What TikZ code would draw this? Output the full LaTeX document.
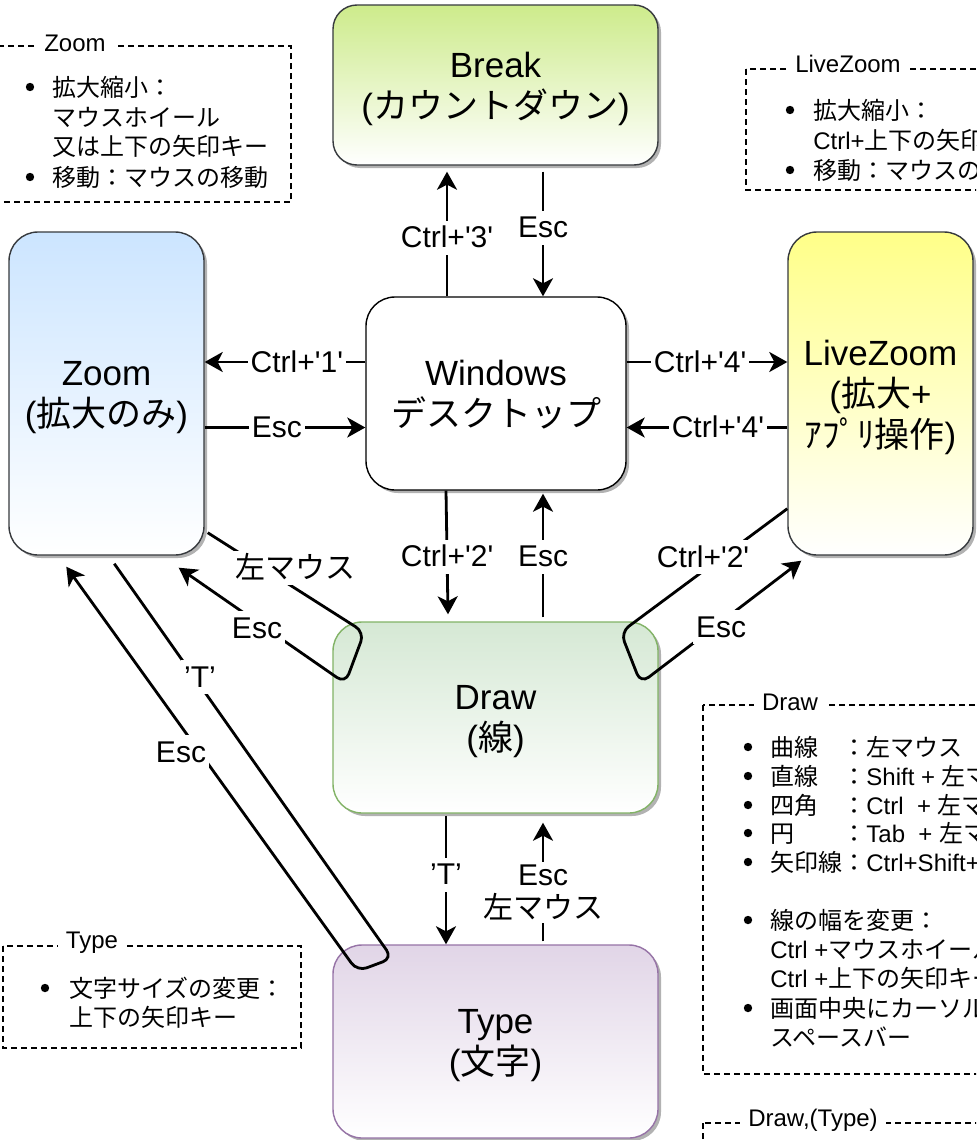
\documentclass[tikz,border=0pt]{standalone}
\usepackage{fontspec}
\setmainfont{Liberation Sans}
\newfontfamily\jp{Noto Sans CJK JP}
\usetikzlibrary{arrows.meta,shadows,calc}
\newdimen\upx \upx=0.5pt
\newcommand\J[1]{{\jp #1}}
\newcommand\sq{\textquotesingle}
\definecolor{brkc}{HTML}{CDEB8B}
\definecolor{zmc}{HTML}{CCE5FF}
\definecolor{lzc}{HTML}{FFFF88}
\definecolor{drc}{HTML}{D5E8D4}
\definecolor{drs}{HTML}{82B366}
\definecolor{tyc}{HTML}{E1D5E7}
\definecolor{tys}{HTML}{9673A6}
\definecolor{strk}{HTML}{36393D}
\begin{document}
\begin{tikzpicture}[x=0.5pt,y=-0.5pt,
 box/.style={draw=strk, line width=0.7pt, rounded corners=14.5pt, align=center, inner sep=0pt,
   text depth=0pt, font=\fontsize{17.5}{20.5}\selectfont,
   drop shadow={shadow xshift=1.5pt,shadow yshift=-1.5pt,opacity=.3,fill=black}},
 conn/.style={line width=1.4pt, -{Stealth[length=9pt,width=10pt,inset=2.5pt]}},
 loopc/.style={conn, rounded corners=5pt},
 lblbase/.style={fill=white, inner sep=1.5pt, font=\fontsize{15}{16.5}\selectfont, align=center},
 lbl/.style={lblbase, text height=12pt, text depth=2pt},
 note/.style={draw, line width=0.6pt, dash pattern=on 3pt off 2pt},
 ntitle/.style={fill=white, inner xsep=4pt, inner ysep=1pt, font=\fontsize{12}{14}\selectfont},
 ntxt/.style={anchor=west, inner sep=0pt, text height=10pt, text depth=1pt, font=\fontsize{12}{14}\selectfont},
 bulc/.style={fill=black}
]
\useasboundingbox (0,0) rectangle (976,1140);
\clip (0,0) rectangle (976,1140);
\fill[white] (0,0) rectangle (976,1140);

% ---------- main state boxes ----------
\node[box, rounded corners=12pt, top color=brkc, bottom color=white, minimum width=325\upx, minimum height=160\upx] (brk) at (495.5,85) {Break\\(\J{カウントダウン})};
\node[box, draw=black, fill=white, minimum width=260\upx, minimum height=193\upx] (win) at (496,393.5) {Windows\\\J{デスクトップ}};
\node[box, top color=zmc, bottom color=white, minimum width=195\upx, minimum height=323\upx] (zoom) at (106.5,393.5) {Zoom\\(\J{拡大のみ})};
\node[box, top color=lzc, bottom color=white, minimum width=185\upx, minimum height=323\upx] (lz) at (880.5,393.5) {LiveZoom\\(\J{拡大}+\\\J{ｱﾌﾟﾘ操作})};
\node[box, draw=drs, top color=drc, bottom color=white, minimum width=325\upx, minimum height=191\upx] (drw) at (495.5,717.5) {Draw\\(\J{線})};
\node[box, draw=tys, top color=tyc, bottom color=white, minimum width=325\upx, minimum height=193\upx] (typ) at (495.5,1041.5) {Type\\(\J{文字})};

% ---------- straight connectors ----------
\draw[conn] ($(win.north)+(-49,0)$) -- node[lbl,pos=.47]{Ctrl+\sq3\sq} ($(brk.south)+(-48.5,6)$);
\draw[conn] ($(brk.south)+(47.5,6)$) -- node[lbl,pos=.45]{Esc} ($(win.north)+(47,0)$);
\draw[conn] ($(win.west)+(0,-31.5)$) -- node[lbl,pos=.426]{Ctrl+\sq1\sq} ($(zoom.east)+(0,-31.5)$);
\draw[conn] ($(zoom.east)+(0,34)$) -- node[lbl,pos=.45]{Esc} ($(win.west)+(0,34)$);
\draw[conn] ($(win.east)+(0,-31.5)$) -- node[lbl,pos=.457]{Ctrl+\sq4\sq} ($(lz.west)+(0,-31.5)$);
\draw[conn] ($(lz.west)+(0,34)$) -- node[lbl,pos=.432]{Ctrl+\sq4\sq} ($(win.east)+(0,34)$);
\draw[conn] ($(win.south)+(-50,0)$) -- node[lbl,pos=.536]{Ctrl+\sq2\sq} ($(drw.north)+(-47.5,-7)$);
\draw[conn] ($(drw.north)+(47.5,-4)$) -- node[lbl,pos=.49]{Esc} ($(win.south)+(47,3)$);
\draw[conn] ($(drw.south)+(-49.5,2)$) -- node[lbl,pos=.46]{’T’} ($(typ.north)+(-49.5,0)$);
\draw[conn] ($(typ.north)+(47.5,-3)$) -- node[lblbase,pos=.41]{Esc\\\J{左マウス}} ($(drw.south)+(47.5,9)$);

% ---------- looped connectors ----------
\coordinate (zd0) at ($(zoom.south east)+(3,-23)$);
\coordinate (zd1) at ($(drw.north west)+(32,11)$);
\coordinate (zd2) at ($(drw.north west)+(13,62)$);
\coordinate (zd3) at ($(zoom.south east)+(-26,12)$);
\draw[loopc] (zd0) -- (zd1) -- (zd2) -- (zd3);
\node[lbl] (lzm) at (295,568) {\J{左マウス}};
\node[lbl] (lze) at (257,628) {Esc};

\coordinate (ld0) at ($(lz.south west)+(0,-47)$);
\coordinate (ld1) at ($(drw.north east)+(-38,11)$);
\coordinate (ld2) at ($(drw.north east)+(-18,62)$);
\coordinate (ld3) at ($(lz.south west)+(14,5)$);
\draw[loopc] (ld0) -- (ld1) -- (ld2) -- (ld3);
\node[lbl] (llc) at (703,557) {Ctrl+\sq2\sq};
\node[lbl] (lle) at (721,627) {Esc};

\coordinate (zt0) at ($(zoom.south west)+(106,8)$);
\coordinate (zt1) at ($(typ.north west)+(60,14)$);
\coordinate (zt2) at ($(typ.north west)+(25,27)$);
\coordinate (zt3) at ($(zoom.south west)+(58,11)$);
\draw[loopc] (zt0) -- (zt1) -- (zt2) -- (zt3);
\node[lbl] (ltt) at (200,677) {’T’};
\node[lbl] (lte) at (181,752) {Esc};

% ---------- notes ----------
% Zoom
\draw[note] (-10,46) rectangle (291,202);
\node[ntitle] (nz) at (75,43) {Zoom};
\fill[bulc] (30,87) circle[radius=2.1pt];  \node[ntxt] at (52,87) {\J{拡大縮小：}};
\node[ntxt] at (52,117) {\J{マウスホイール}};
\node[ntxt] at (52,146) {\J{又は上下の矢印キー}};
\fill[bulc] (30,177) circle[radius=2.1pt]; \node[ntxt] at (52,177) {\J{移動：マウスの移動}};

% LiveZoom
\draw[note] (746,69) rectangle (1010,190);
\node[ntitle] (nl) at (848,64) {LiveZoom};
\fill[bulc] (790,110) circle[radius=2.1pt]; \node[ntxt] at (813,110) {\J{拡大縮小：}};
\node[ntxt] at (813,140) {Ctrl+\J{上下の矢印キー}};
\fill[bulc] (790,170) circle[radius=2.1pt]; \node[ntxt] at (813,170) {\J{移動：マウスの移動}};

% Draw
\draw[note] (703,705) rectangle (1010,1074);
\node[ntitle] (nd) at (790,702) {Draw};
\fill[bulc] (748,747) circle[radius=2.1pt]; \node[ntxt] at (770,747) {\J{曲線　：左マウス}};
\fill[bulc] (748,776) circle[radius=2.1pt]; \node[ntxt] at (770,776) {\J{直線　：}Shift + \J{左マウス}};
\fill[bulc] (748,805) circle[radius=2.1pt]; \node[ntxt] at (770,805) {\J{四角　：}Ctrl~ + \J{左マウス}};
\fill[bulc] (748,833) circle[radius=2.1pt]; \node[ntxt] at (770,833) {\J{円　　：}Tab~ + \J{左マウス}};
\fill[bulc] (748,862) circle[radius=2.1pt]; \node[ntxt] at (770,862) {\J{矢印線：}Ctrl+Shift+\J{左マウス}};
\fill[bulc] (748,920) circle[radius=2.1pt]; \node[ntxt] at (770,920) {\J{線の幅を変更：}};
\node[ntxt] at (770,949) {Ctrl +\J{マウスホイール}};
\node[ntxt] at (770,978) {Ctrl +\J{上下の矢印キー}};
\fill[bulc] (748,1008) circle[radius=2.1pt]; \node[ntxt] at (770,1008) {\J{画面中央にカーソル：}};
\node[ntxt] at (770,1037) {\J{スペースバー}};

% Draw,(Type)
\draw[note] (703,1123) rectangle (1010,1200);
\node[ntitle] (ndt) at (813,1120) {Draw,(Type)};

% Type
\draw[note] (3,946) rectangle (301,1048);
\node[ntitle] (nt) at (92,943) {Type};
\fill[bulc] (45,988) circle[radius=2.1pt]; \node[ntxt] at (69,988) {\J{文字サイズの変更：}};
\node[ntxt] at (69,1017) {\J{上下の矢印キー}};
\end{tikzpicture}
\end{document}
